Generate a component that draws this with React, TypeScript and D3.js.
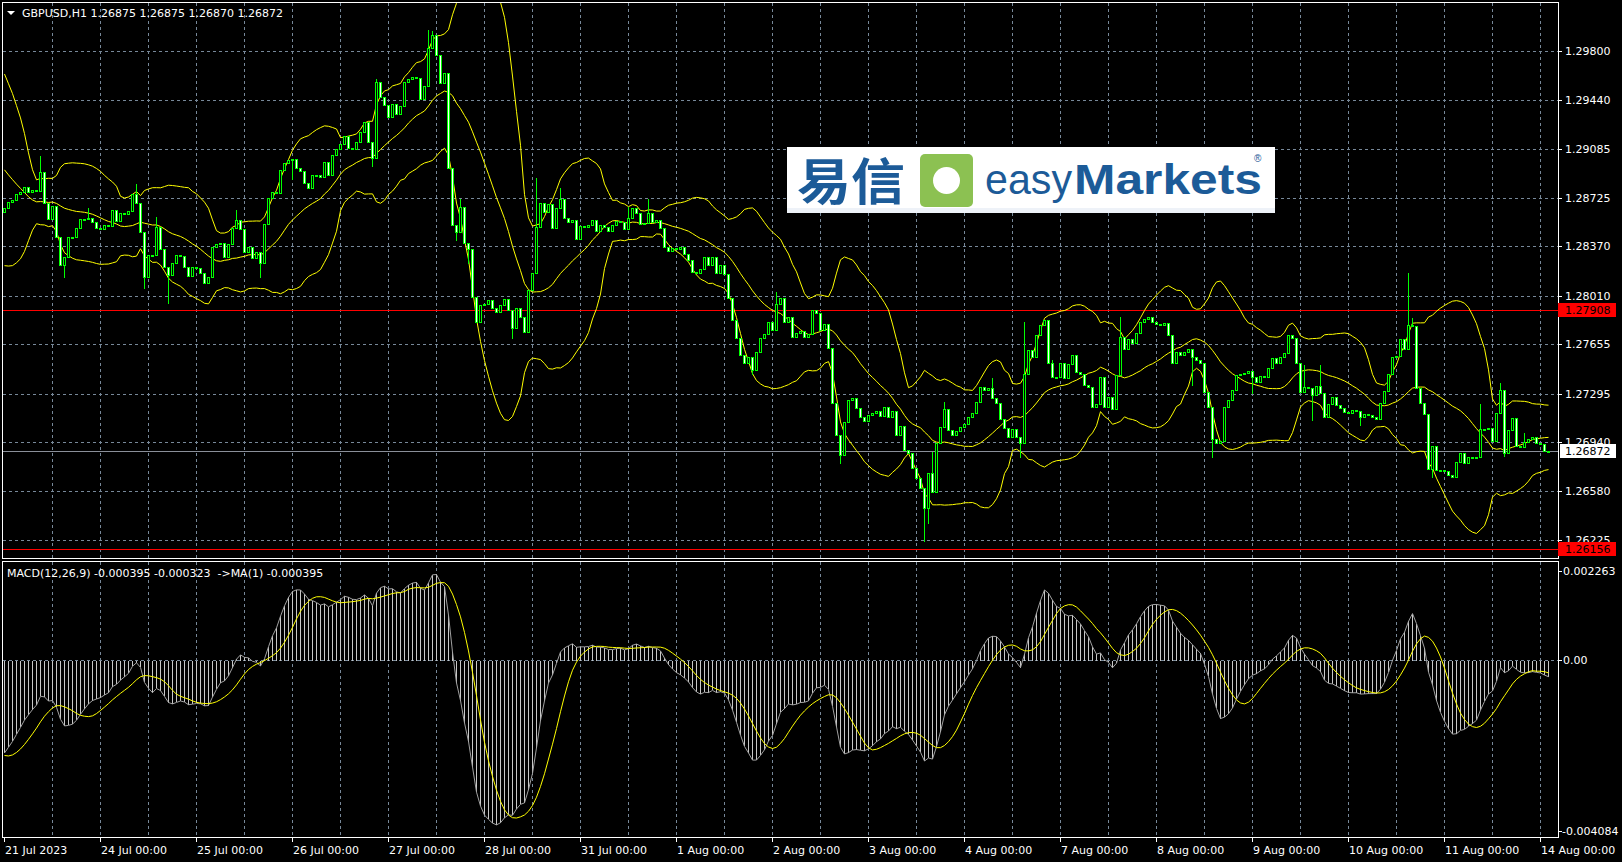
import React from "react";
import * as d3 from "d3";

// ---------- DATA ----------
const SYMBOL = "GBPUSD,H1";
const LAST_BAR_OHLC = [1.26875, 1.26875, 1.2687, 1.26872];
const FIRST_OPEN = 1.28624;

// 20 Jul hourly closes (off-screen history that feeds the indicators at the left edge)
const WARMUP_CLOSES = [
  1.2944, 1.29395, 1.2942, 1.2938, 1.2941, 1.2939, 1.29245, 1.2905, 1.28879, 1.28733,
  1.2865, 1.2861, 1.2864, 1.286, 1.2863, 1.28615, 1.28595, 1.2864, 1.2862,
];
// prior EMA state (12, 26) before the warm-up closes
const EMA_SEEDS = [1.2944, 1.2947];

// hourly closes, 21 Jul 2023 00:00 -> 14 Aug 2023 02:00
const CLOSES = [
  // 21 Jul
  1.28648, 1.28697, 1.28709, 1.28753, 1.2877, 1.28801, 1.2877, 1.28782, 1.28777, 1.28916, 1.28685, 1.28568,
  1.28665, 1.28441, 1.28234, 1.28295, 1.28436, 1.28441, 1.28502, 1.28568, 1.28573, 1.28577, 1.28546, 1.28502,
  // 24 Jul
  1.28495, 1.28524, 1.28521, 1.28636, 1.28553, 1.28616, 1.2861, 1.28629, 1.28753, 1.2869, 1.28475, 1.28144,
  1.28307, 1.28305, 1.28514, 1.28349, 1.28217, 1.28161, 1.28246, 1.28305, 1.283, 1.28222, 1.28156, 1.28217,
  // 25 Jul
  1.2821, 1.28173, 1.28105, 1.28144, 1.28368, 1.28388, 1.28392, 1.2829, 1.28388, 1.28504, 1.2856, 1.28495,
  1.28327, 1.28368, 1.28283, 1.28329, 1.28246, 1.28534, 1.28721, 1.2877, 1.28758, 1.28928, 1.28977, 1.29001,
  // 26 Jul
  1.29006, 1.2894, 1.28923, 1.28831, 1.28794, 1.28892, 1.28889, 1.28875, 1.28989, 1.28892, 1.29038, 1.29084,
  1.29116, 1.29179, 1.29091, 1.29079, 1.29135, 1.29208, 1.29281, 1.29135, 1.29013, 1.29571, 1.29464, 1.29403,
  // 27 Jul
  1.29318, 1.2941, 1.29337, 1.29396, 1.29573, 1.29593, 1.29605, 1.296, 1.29444, 1.29542, 1.29817, 1.29914,
  1.29768, 1.29566, 1.29639, 1.2894, 1.28526, 1.28478, 1.2866, 1.28397, 1.28348, 1.28003, 1.2782, 1.27942,
  // 28 Jul
  1.27949, 1.27978, 1.27917, 1.27893, 1.27942, 1.27983, 1.27905, 1.27771, 1.27917, 1.27857, 1.27747, 1.28051,
  1.28173, 1.28514, 1.28689, 1.28624, 1.2868, 1.28502, 1.28648, 1.28714, 1.28575, 1.28551, 1.28563, 1.28422,
  // 31 Jul
  1.28519, 1.28514, 1.28526, 1.28563, 1.28482, 1.28526, 1.28514, 1.28485, 1.28526, 1.28558, 1.28551, 1.28495,
  1.28575, 1.28648, 1.28611, 1.28534, 1.28538, 1.28611, 1.28551, 1.28563, 1.28507, 1.28363, 1.28339, 1.28356,
  // 1 Aug
  1.28348, 1.28363, 1.28314, 1.28271, 1.28185, 1.28178, 1.28207, 1.28295, 1.28234, 1.28295, 1.28173, 1.28234,
  1.28168, 1.2799, 1.27832, 1.277, 1.2758, 1.2752, 1.2756, 1.2747, 1.276, 1.277, 1.2773, 1.2782,
  // 2 Aug
  1.2776, 1.2795, 1.2799, 1.2782, 1.27857, 1.2771, 1.27735, 1.27754, 1.2771, 1.2773, 1.27905, 1.27881,
  1.27759, 1.27803, 1.27625, 1.27223, 1.26992, 1.26846, 1.27089, 1.27248, 1.2726, 1.27187, 1.27126, 1.27097,
  // 3 Aug
  1.27138, 1.2715, 1.2717, 1.27131, 1.27199, 1.27126, 1.2717, 1.26992, 1.27058, 1.26882, 1.26863, 1.26748,
  1.26675, 1.26602, 1.26456, 1.26712, 1.26578, 1.26931, 1.27053, 1.2718, 1.27029, 1.26992, 1.27024, 1.27048,
  // 4 Aug
  1.27072, 1.27121, 1.2715, 1.27236, 1.27345, 1.27321, 1.27333, 1.2726, 1.27223, 1.27106, 1.27041, 1.2698,
  1.27033, 1.2698, 1.26936, 1.27438, 1.27613, 1.27564, 1.27723, 1.27796, 1.27832, 1.2752, 1.27418, 1.27413,
  // 7 Aug
  1.27516, 1.27406, 1.27511, 1.27576, 1.27455, 1.27438, 1.27357, 1.2734, 1.27194, 1.27219, 1.27418, 1.27199,
  1.27272, 1.2718, 1.2743, 1.2771, 1.27618, 1.27691, 1.27667, 1.27735, 1.2782, 1.27839, 1.27852, 1.2782,
  // 8 Aug
  1.27803, 1.27796, 1.27813, 1.27723, 1.27516, 1.27601, 1.27577, 1.27601, 1.27618, 1.27565, 1.2754, 1.27521,
  1.27309, 1.27199, 1.26961, 1.26932, 1.26949, 1.27199, 1.27248, 1.27321, 1.27431, 1.27438, 1.27448, 1.27462,
  // 9 Aug
  1.27419, 1.27382, 1.27423, 1.27414, 1.27479, 1.27553, 1.27521, 1.2756, 1.27589, 1.27723, 1.27699, 1.27521,
  1.27309, 1.27341, 1.27333, 1.27285, 1.2735, 1.27297, 1.27126, 1.27219, 1.27272, 1.27212, 1.27187, 1.27163,
  // 10 Aug
  1.27151, 1.27175, 1.2717, 1.27121, 1.27146, 1.27138, 1.27121, 1.27112, 1.27224, 1.27316, 1.27438, 1.2756,
  1.2757, 1.27691, 1.27618, 1.27796, 1.27789, 1.27333, 1.27224, 1.27146, 1.26742, 1.26912, 1.26737, 1.26737,
  // 11 Aug
  1.26732, 1.267, 1.26683, 1.26798, 1.26858, 1.2679, 1.26834, 1.26822, 1.26834, 1.27034, 1.27034, 1.27041,
  1.26951, 1.27151, 1.27321, 1.26858, 1.27029, 1.27114, 1.26912, 1.26902, 1.26944, 1.26961, 1.2698, 1.26932,
  // 14 Aug
  1.26927, 1.26875, 1.26872,
];

// notable shadows: [bar index, price]
const HIGH_WICKS: [number, number][] = [
  [9, 1.2903], [21, 1.28648], [33, 1.28826], [38, 1.28582], [58, 1.28636], [93, 1.2959],
  [106, 1.29951], [107, 1.29946], [114, 1.28714], [133, 1.28867], [139, 1.28794], [156, 1.2866],
  [161, 1.28714], [193, 1.2804], [232, 1.2687], [235, 1.27235], [247, 1.27406], [255, 1.2782],
  [262, 1.2754], [279, 1.27857], [325, 1.27504], [329, 1.27504], [351, 1.28173], [352, 1.27845],
  [369, 1.27219], [374, 1.2737], [380, 1.27009],
];
const LOW_WICKS: [number, number][] = [
  [15, 1.28149], [35, 1.28064], [41, 1.27959], [64, 1.28149], [72, 1.2886], [92, 1.28957],
  [113, 1.28417], [116, 1.28246], [127, 1.27698], [187, 1.2744], [209, 1.26785], [230, 1.26215],
  [231, 1.26347], [254, 1.26834], [297, 1.27358], [302, 1.26829], [312, 1.27297], [327, 1.27102],
  [339, 1.27065], [357, 1.26683], [375, 1.26839],
];

const PRICE_TICKS = [1.298, 1.2944, 1.29085, 1.28725, 1.2837, 1.2801, 1.27655, 1.27295, 1.2694, 1.2658, 1.26225];
const LEVEL_LINES = [1.27908, 1.26156];
const DAY_LABELS = [
  "21 Jul 2023", "24 Jul 00:00", "25 Jul 00:00", "26 Jul 00:00", "27 Jul 00:00", "28 Jul 00:00",
  "31 Jul 00:00", "1 Aug 00:00", "2 Aug 00:00", "3 Aug 00:00", "4 Aug 00:00", "7 Aug 00:00",
  "8 Aug 00:00", "9 Aug 00:00", "10 Aug 00:00", "11 Aug 00:00", "14 Aug 00:00",
];
const DAY_LABEL_BARS = [0, 24, 48, 72, 96, 120, 144, 168, 192, 216, 240, 264, 288, 312, 336, 360, 384];
const MACD_TICKS = [0.002263, 0, -0.004084];
const MACD_TICK_LABELS = ["0.002263", "0.00", "-0.004084"];
const MACD_TITLE = "MACD(12,26,9) -0.000395 -0.000323  ->MA(1) -0.000395";

// ---------- LAYOUT ----------
const FONT = "'DejaVu Sans', Verdana, sans-serif";
const LEFT = 2.5, RIGHT = 1558.5;
const MAIN_TOP = 2.5, MAIN_BOT = 558.5;
const MACD_TOP = 561.5, MACD_BOT = 837.5;
const GRID = "#778899";
const LIME = "#00ff00";

export default function App() {
  const N = CLOSES.length;
  const xs = d3.scaleLinear().domain([0, N - 1]).range([4, 4 + 4 * (N - 1)]);
  const ys = d3.scaleLinear().domain([1.26225, 1.298]).range([540, 50.7]);
  const ym = d3.scaleLinear().domain([-0.004084, 0.002263]).range([837, 562]);
  const px = (i: number) => Math.round(xs(i));

  // candles
  const hiMap = new Map(HIGH_WICKS);
  const loMap = new Map(LOW_WICKS);
  const bars = CLOSES.map((c, i) => {
    const o = i === 0 ? FIRST_OPEN : i === N - 1 ? LAST_BAR_OHLC[0] : CLOSES[i - 1];
    let h = Math.max(o, c), l = Math.min(o, c);
    if (hiMap.has(i)) h = Math.max(h, hiMap.get(i)!);
    if (loMap.has(i)) l = Math.min(l, loMap.get(i)!);
    if (i === N - 1) { h = LAST_BAR_OHLC[1]; l = LAST_BAR_OHLC[2]; }
    return { o, h, l, c };
  });

  // indicators
  const all = [...WARMUP_CLOSES, ...CLOSES];
  const W0 = WARMUP_CLOSES.length;
  const up: number[] = [], mid: number[] = [], lo: number[] = [];
  for (let i = 0; i < N; i++) {
    const w = all.slice(i + W0 - 19, i + W0 + 1);
    const m = d3.mean(w)!;
    const sd = Math.sqrt(d3.mean(w.map((v) => (v - m) * (v - m)))!);
    mid.push(m); up.push(m + 2 * sd); lo.push(m - 2 * sd);
  }
  let e12 = EMA_SEEDS[0], e26 = EMA_SEEDS[1];
  const macdAll: number[] = [];
  all.forEach((c) => {
    e12 = e12 + (2 / 13) * (c - e12);
    e26 = e26 + (2 / 27) * (c - e26);
    macdAll.push(e12 - e26);
  });
  const macd: number[] = [], signal: number[] = [];
  for (let i = 0; i < N; i++) {
    const j = i + W0;
    macd.push(macdAll[j]);
    signal.push(d3.mean(macdAll.slice(j - 8, j + 1))!);
  }

  const lineMain = (arr: number[]) =>
    d3.line<number>().x((_, i) => xs(i) + 0.5).y((v) => ys(v))(arr) || "";
  const lineMacd = (arr: number[]) =>
    d3.line<number>().x((_, i) => xs(i) + 0.5).y((v) => ym(v))(arr) || "";

  const gridXs = d3.range(12, N, 12).map((i) => px(i) + 0.5);
  const y0 = Math.round(ym(0)) + 0.5;
  const last = LAST_BAR_OHLC[3];

  return (
    <div style={{ position: "fixed", left: 0, top: 0, width: 1622, height: 862, background: "#000" }}>
      <svg width={1622} height={862} style={{ display: "block" }} fontFamily={FONT}>
        <defs>
          <clipPath id="clipMain"><rect x={LEFT} y={MAIN_TOP} width={RIGHT - LEFT} height={MAIN_BOT - MAIN_TOP} /></clipPath>
          <clipPath id="clipMacd"><rect x={LEFT} y={MACD_TOP} width={RIGHT - LEFT} height={MACD_BOT - MACD_TOP} /></clipPath>
        </defs>
        <rect width={1622} height={862} fill="#000" />

        {/* grids */}
        <g stroke={GRID} strokeDasharray="3,3" shapeRendering="crispEdges">
          {PRICE_TICKS.map((p) => (
            <line key={"h" + p} x1={LEFT} x2={RIGHT} y1={Math.round(ys(p)) + 0.5} y2={Math.round(ys(p)) + 0.5} />
          ))}
          {gridXs.map((x) => (
            <line key={"v" + x} x1={x} x2={x} y1={MAIN_TOP} y2={MAIN_BOT} />
          ))}
          {gridXs.map((x) => (
            <line key={"vm" + x} x1={x} x2={x} y1={MACD_TOP} y2={MACD_BOT} />
          ))}
          <line x1={LEFT} x2={RIGHT} y1={y0} y2={y0} />
        </g>

        {/* main panel */}
        <g clipPath="url(#clipMain)">
          {LEVEL_LINES.map((p) => (
            <line key={"lvl" + p} x1={LEFT} x2={RIGHT} y1={Math.round(ys(p)) + 0.5} y2={Math.round(ys(p)) + 0.5} stroke="#ff0000" shapeRendering="crispEdges" />
          ))}
          <line x1={LEFT} x2={RIGHT} y1={Math.round(ys(last)) + 0.5} y2={Math.round(ys(last)) + 0.5} stroke="#8a8f99" shapeRendering="crispEdges" />
          <g fill="none" stroke="#ffff00" strokeWidth={1}>
            <path d={lineMain(up)} />
            <path d={lineMain(mid)} />
            <path d={lineMain(lo)} />
          </g>
          <g shapeRendering="crispEdges">
            {bars.map((b, i) => {
              const x = px(i);
              const yh = Math.round(ys(b.h)), yl = Math.round(ys(b.l));
              const top = Math.round(ys(Math.max(b.o, b.c)));
              const bot = Math.round(ys(Math.min(b.o, b.c)));
              const hgt = Math.max(1, bot - top);
              const bull = b.c >= b.o;
              return (
                <g key={i}>
                  <rect x={x} y={yh} width={1} height={Math.max(1, yl - yh + 1)} fill={LIME} />
                  <rect x={x - 1} y={top} width={3} height={hgt + 1} fill={LIME} />
                  {hgt > 1 && <rect x={x} y={top + 1} width={1} height={hgt - 1} fill={bull ? "#000" : "#fff"} />}
                </g>
              );
            })}
          </g>
        </g>

        {/* macd panel */}
        <g clipPath="url(#clipMacd)">
          <g stroke="#c8c8c8" strokeWidth={1} shapeRendering="crispEdges">
            {macd.map((v, i) => {
              const yv = Math.round(ym(v));
              return <line key={i} x1={px(i) + 0.5} x2={px(i) + 0.5} y1={y0} y2={yv} />;
            })}
          </g>
          <path d={lineMacd(macd)} fill="none" stroke="#a0a0a0" strokeWidth={1} />
          <path d={lineMacd(signal)} fill="none" stroke="#ffff00" strokeWidth={1} />
        </g>

        {/* frames */}
        <g fill="none" stroke="#fff" shapeRendering="crispEdges">
          <rect x={LEFT} y={MAIN_TOP} width={RIGHT - LEFT} height={MAIN_BOT - MAIN_TOP} />
          <rect x={LEFT} y={MACD_TOP} width={RIGHT - LEFT} height={MACD_BOT - MACD_TOP} />
        </g>

        {/* price axis */}
        <g fill="#fff" fontSize={11}>
          {PRICE_TICKS.map((p) => (
            <g key={"pt" + p}>
              <line x1={RIGHT} x2={RIGHT + 3} y1={Math.round(ys(p)) + 0.5} y2={Math.round(ys(p)) + 0.5} stroke="#fff" shapeRendering="crispEdges" />
              <text x={1565} y={ys(p) + 4}>{p.toFixed(5)}</text>
            </g>
          ))}
        </g>
        {LEVEL_LINES.map((p) => (
          <g key={"lb" + p}>
            <rect x={1558} y={Math.round(ys(p)) - 7} width={58} height={14} fill="#ff0000" />
            <text x={1565} y={ys(p) + 4} fontSize={11} fill="#000">{p.toFixed(5)}</text>
          </g>
        ))}
        <rect x={1560} y={Math.round(ys(last)) - 7} width={56} height={14} fill="#fff" />
        <text x={1565} y={ys(last) + 4} fontSize={11} fill="#000">{last.toFixed(5)}</text>

        {/* macd axis */}
        <g fill="#fff" fontSize={11}>
          {MACD_TICKS.map((v, k) => {
            const yy = k === 0 ? ym(v) + 8.7 : k === 2 ? ym(v) - 6.3 : ym(v);
            return (
              <g key={"mt" + k}>
                <line x1={RIGHT} x2={RIGHT + 3} y1={Math.round(yy) + 0.5} y2={Math.round(yy) + 0.5} stroke="#fff" shapeRendering="crispEdges" />
                <text x={k === 2 ? 1562 : 1563} y={yy + 4}>{MACD_TICK_LABELS[k]}</text>
              </g>
            );
          })}
        </g>

        {/* time axis */}
        <g fill="#fff" fontSize={11}>
          {DAY_LABEL_BARS.map((b, k) => (
            <g key={"d" + k}>
              <line x1={px(b) + 0.5} x2={px(b) + 0.5} y1={MACD_BOT} y2={MACD_BOT + 4} stroke="#fff" shapeRendering="crispEdges" />
              <text x={px(b) + 1} y={854}>{DAY_LABELS[k]}</text>
            </g>
          ))}
        </g>

        {/* titles */}
        <path d="M7,11 L15,11 L11,15 Z" fill="#fff" />
        <text x={22} y={17} fontSize={11} fill="#fff">
          {SYMBOL + "  " + LAST_BAR_OHLC.map((v) => v.toFixed(5)).join(" ")}
        </text>
        <text x={7} y={576.5} fontSize={11} fill="#fff" style={{ whiteSpace: "pre" }}>{MACD_TITLE}</text>

        {/* logo */}
        <g>
          <rect x={787} y={147} width={488} height={66} fill="#fff" />
          <rect x={787} y={208} width={488} height={5} fill="#eef2f8" />
          <text x={797} y={200} fontSize={50} fontWeight={700} fill="#1c5b98" fontFamily="'Noto Sans CJK SC', sans-serif" textLength={108} lengthAdjust="spacingAndGlyphs">易信</text>
          <rect x={920} y={154} width={53} height={53} rx={5} fill="#8cc152" />
          <circle cx={946.5} cy={180.5} r={13.5} fill="#fff" />
          <text x={985} y={193.5} fontSize={43} fill="#1c5b98" fontFamily="'Liberation Sans', Arial, sans-serif" textLength={87} lengthAdjust="spacingAndGlyphs">easy</text>
          <text x={1074} y={193.5} fontSize={43} fontWeight={700} fill="#1c5b98" fontFamily="'Liberation Sans', Arial, sans-serif" textLength={188} lengthAdjust="spacingAndGlyphs">Markets</text>
          <text x={1254} y={162} fontSize={10} fill="#1c5b98" fontFamily="'Liberation Sans', Arial, sans-serif">®</text>
        </g>
      </svg>
    </div>
  );
}
